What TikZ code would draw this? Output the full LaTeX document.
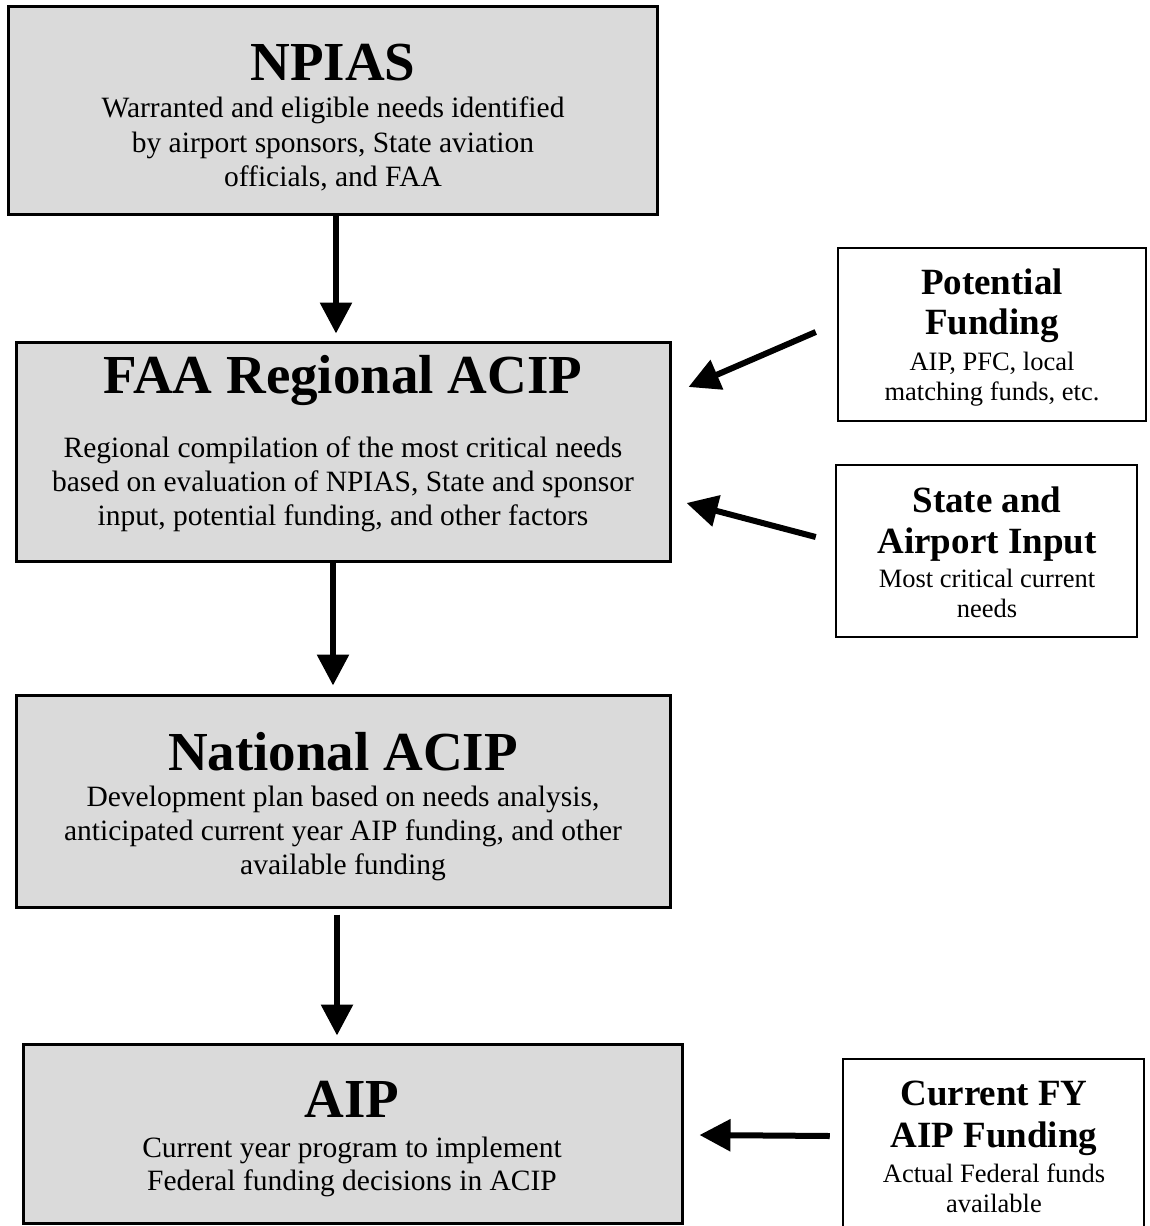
\documentclass[tikz,border=0pt]{standalone}
\usepackage{fontspec}
\setmainfont{Liberation Serif}
\usetikzlibrary{arrows.meta,calc}
\definecolor{boxgray}{HTML}{DADADA}
\begin{document}
\begin{tikzpicture}[x=1pt,y=-1pt,
  mainbox/.style={draw=black, line width=3pt, fill=boxgray, inner sep=0pt},
  sidebox/.style={draw=black, line width=2.5pt, fill=white, inner sep=0pt},
  bigtitle/.style={anchor=base, inner sep=0pt, font=\fontsize{55}{60}\selectfont\bfseries},
  body/.style={anchor=base, inner sep=0pt, font=\fontsize{29.5}{34}\selectfont},
  sidetitle/.style={anchor=base, inner sep=0pt, font=\fontsize{37}{42}\selectfont\bfseries},
  sidebody/.style={anchor=base, inner sep=0pt, font=\fontsize{26.5}{31}\selectfont},
  arr/.style={line width=6pt, -{Triangle[length=31pt,width=31pt]}}
]
\useasboundingbox (0,0) rectangle (1150,1226);
\clip (0,0) rectangle (1150,1226);
% main boxes
\node[mainbox, minimum width=649pt, minimum height=208pt] (npias) at (332.5,110) {};
\node[mainbox, minimum width=654pt, minimum height=219pt] (faa) at (343,451.5) {};
\node[mainbox, minimum width=654pt, minimum height=212pt] (nat) at (343,801) {};
\node[mainbox, minimum width=659pt, minimum height=179pt] (aip) at (352.5,1133.5) {};
% side boxes
\node[sidebox, minimum width=308pt, minimum height=173pt] (pf) at (992,334.5) {};
\node[sidebox, minimum width=301pt, minimum height=172pt] (sa) at (986.5,551) {};
\node[sidebox, minimum width=301pt, minimum height=181pt] (cfy) at (993.5,1149.5) {};
% texts: NPIAS
\node[bigtitle] (t1) at (333,80) {NPIAS};
\node[body] (b1a) at (333,117) {Warranted and eligible needs identified};
\node[body] (b1b) at (333,152) {by airport sponsors, State aviation};
\node[body] (b1c) at (333,186) {officials, and FAA};
% FAA Regional ACIP
\node[bigtitle] (t2) at (343,393) {FAA Regional ACIP};
\node[body] (b2a) at (343,457) {Regional compilation of the most critical needs};
\node[body] (b2b) at (343,491) {based on evaluation of NPIAS, State and sponsor};
\node[body] (b2c) at (343,525) {input, potential funding, and other factors};
% National ACIP
\node[bigtitle] (t3) at (343,770) {National ACIP};
\node[body] (b3a) at (343,806) {Development plan based on needs analysis,};
\node[body] (b3b) at (343,840) {anticipated current year AIP funding, and other};
\node[body] (b3c) at (343,874) {available funding};
% AIP
\node[bigtitle] (t4) at (352,1117) {AIP};
\node[body] (b4a) at (352,1157) {Current year program to implement};
\node[body] (b4b) at (352,1190) {Federal funding decisions in ACIP};
% Potential Funding
\node[sidetitle] (t5a) at (992,294) {Potential};
\node[sidetitle] (t5b) at (992,334) {Funding};
\node[sidebody] (b5a) at (992,370) {AIP, PFC, local};
\node[sidebody] (b5b) at (992,400) {matching funds, etc.};
% State and Airport Input
\node[sidetitle] (t6a) at (987,512) {State and};
\node[sidetitle] (t6b) at (987,553) {Airport Input};
\node[sidebody] (b6a) at (987,587) {Most critical current};
\node[sidebody] (b6b) at (987,617) {needs};
% Current FY
\node[sidetitle] (t7a) at (994,1105) {Current FY};
\node[sidetitle] (t7b) at (994,1147) {AIP Funding};
\node[sidebody] (b7a) at (994,1182) {Actual Federal funds};
\node[sidebody] (b7b) at (994,1212) {available};
% arrows
\draw[arr] ($(npias.south)+(3.5,0)$) -- ($(faa.north)+(-7,-7)$);
\draw[arr] ($(faa.south)+(-10,0)$) -- ($(nat.north)+(-10,-8)$);
\draw[arr] ($(nat.south)+(-6,6)$) -- ($(aip.north)+(-15.5,-7)$);
\draw[arr] ($(pf.west)+(-21,-2.5)$) -- ($(faa.east)+(17,-64.5)$);
\draw[arr] ($(sa.west)+(-19,-14)$) -- ($(faa.east)+(15,51.5)$);
\draw[arr] ($(cfy.west)+(-12,-13.5)$) -- ($(aip.east)+(16,1.5)$);
\end{tikzpicture}
\end{document}
